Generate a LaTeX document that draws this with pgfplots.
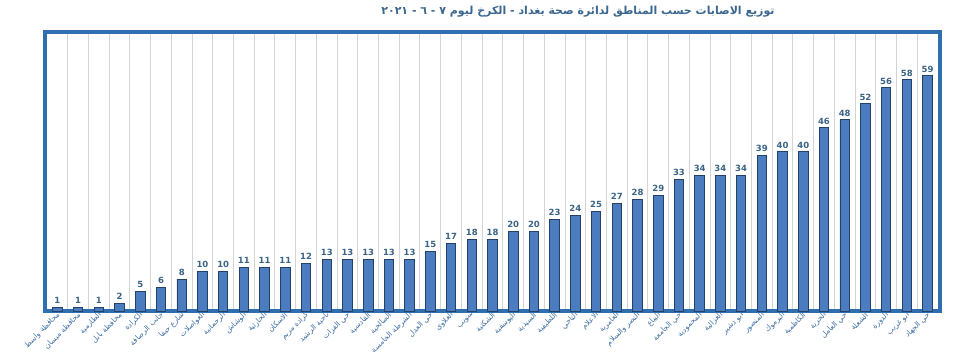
\documentclass[border=0pt]{standalone}
\usepackage{pgfplots}
\pgfplotsset{compat=1.18}
\usepackage{fontspec}
\setmainfont{DejaVu Sans}
\newfontfamily\arabicfont[Script=Arabic]{DejaVu Sans}
\TeXXeTstate=1
\definecolor{frameblue}{HTML}{2F6FB0}
\definecolor{barblue}{HTML}{4A7CBF}
\definecolor{bardark}{HTML}{22426A}
\definecolor{valcol}{HTML}{3A6385}
\definecolor{labcol}{HTML}{3E6FA3}
\definecolor{titlecol}{HTML}{3A6690}
\definecolor{gridcol}{HTML}{D4D4D4}
\begin{document}
\begin{tikzpicture}
\useasboundingbox (0,0) rectangle (960pt,360pt);
\node[text=titlecol, font=\fontsize{11}{13}\selectfont\bfseries] at (578pt,348pt)
 {\arabicfont\beginR توزيع الاصابات حسب المناطق لدائرة صحة بغداد - الكرخ ليوم ٧ - ٦ - \beginL٢٠٢١\endL\endR};
\begin{axis}[
  at={(45pt,49pt)}, anchor=south west,
  scale only axis, width=895pt, height=279pt,
  ymin=0, ymax=70, xmin=-0.6, xmax=42.6,
  ytick=\empty,
  xtick={0,...,42},
  minor x tick num=1,
  xminorgrids=true,
  minor grid style={gridcol, line width=1pt},
  major tick length=0pt, minor tick length=0pt,
  axis line style={frameblue, line width=3.5pt},
  xticklabels={
{\arabicfont\beginR محافظة واسط\endR},
{\arabicfont\beginR محافظة ميسان\endR},
{\arabicfont\beginR الطارمية\endR},
{\arabicfont\beginR محافظة بابل\endR},
{\arabicfont\beginR الكرادة\endR},
{\arabicfont\beginR جانب الرصافة\endR},
{\arabicfont\beginR شارع حيفا\endR},
{\arabicfont\beginR العواصلات\endR},
{\arabicfont\beginR الرحمانية\endR},
{\arabicfont\beginR الوشاش\endR},
{\arabicfont\beginR الحارثية\endR},
{\arabicfont\beginR الاسكان\endR},
{\arabicfont\beginR كرادة مريم\endR},
{\arabicfont\beginR ناحية الرشيد\endR},
{\arabicfont\beginR حي الفرات\endR},
{\arabicfont\beginR القادسية\endR},
{\arabicfont\beginR الصالحية\endR},
{\arabicfont\beginR الشرطة الخامسة\endR},
{\arabicfont\beginR حي العدل\endR},
{\arabicfont\beginR العلاوي\endR},
{\arabicfont\beginR سويب\endR},
{\arabicfont\beginR الشكتية\endR},
{\arabicfont\beginR اليوسفية\endR},
{\arabicfont\beginR السيدية\endR},
{\arabicfont\beginR اللطيفية\endR},
{\arabicfont\beginR التاجي\endR},
{\arabicfont\beginR الاعلام\endR},
{\arabicfont\beginR العامرية\endR},
{\arabicfont\beginR النصر والسلام\endR},
{\arabicfont\beginR البياع\endR},
{\arabicfont\beginR حي الجامعة\endR},
{\arabicfont\beginR المحمودية\endR},
{\arabicfont\beginR الغزالية\endR},
{\arabicfont\beginR ابو دشير\endR},
{\arabicfont\beginR المنصور\endR},
{\arabicfont\beginR اليرموك\endR},
{\arabicfont\beginR الكاظمية\endR},
{\arabicfont\beginR الحرية\endR},
{\arabicfont\beginR حي العامل\endR},
{\arabicfont\beginR الشعلة\endR},
{\arabicfont\beginR الدورة\endR},
{\arabicfont\beginR ابو غريب\endR},
{\arabicfont\beginR حي الجهاد\endR}},
  xticklabel style={rotate=45, anchor=east, font=\fontsize{7.5}{8}\selectfont, text=labcol, inner sep=1pt, yshift=-3pt},
  nodes near coords,
  /pgf/number format/assume math mode=true,
  every node near coord/.append style={font=\fontsize{8.5}{9}\selectfont\bfseries, text=valcol, inner sep=3pt},
]
\addplot[ybar, bar width=9.5pt, fill=barblue, draw=bardark, line width=0.9pt]
 coordinates {(0,1)(1,1)(2,1)(3,2)(4,5)(5,6)(6,8)(7,10)(8,10)(9,11)(10,11)(11,11)(12,12)(13,13)(14,13)(15,13)(16,13)(17,13)(18,15)(19,17)(20,18)(21,18)(22,20)(23,20)(24,23)(25,24)(26,25)(27,27)(28,28)(29,29)(30,33)(31,34)(32,34)(33,34)(34,39)(35,40)(36,40)(37,46)(38,48)(39,52)(40,56)(41,58)(42,59)};
\end{axis}
\end{tikzpicture}
\end{document}
